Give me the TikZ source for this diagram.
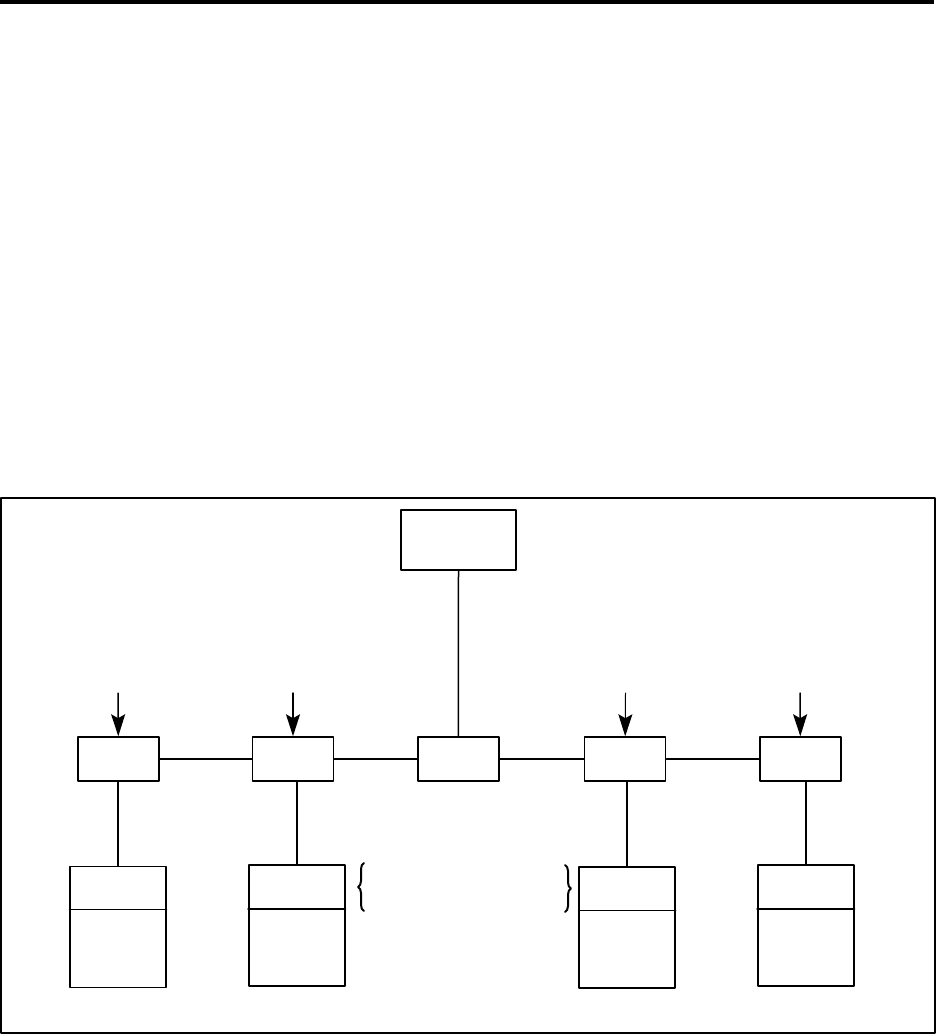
\documentclass[tikz,border=0pt]{standalone}
\usetikzlibrary{arrows.meta,decorations.pathreplacing}
\tikzset{
  every picture/.style={line join=round, line cap=round, >=Stealth},
  unit/.style={draw, line width=1.5pt, minimum width=81pt, minimum height=44pt, inner sep=0pt},
  store/.style={draw, line width=1.5pt, minimum width=96pt, minimum height=121pt, inner sep=0pt},
  feed/.style={-{Stealth[length=22pt,width=14pt,inset=4pt]}, line width=1.5pt},
  link/.style={line width=1.3pt},
}

\begin{document}
\begin{tikzpicture}[x=1pt,y=-1pt]
\useasboundingbox (0,0) rectangle (936,1035);
\draw[line width=4pt,line cap=butt](0,2)--(934,2);
\draw[line width=1.6pt](1,498) rectangle (935,1033);
% top box and middle row
\node[unit, minimum width=115pt, minimum height=60pt] (top) at (458.5,540) {};
\node[unit] (m1) at (118.3,759) {};
\node[unit] (m2) at (293,759) {};
\node[unit] (m3) at (458.3,759) {};
\node[unit] (m4) at (625.2,759) {};
\node[unit] (m5) at (800.3,759) {};
\draw[link](m1)--(m2);
\draw[link](m2)--(m3);
\draw[link](m3)--(m4);
\draw[link](m4)--(m5);
\draw[line width=1.5pt](top.south)--(m3.north);
% arrows into the units
\coordinate (a1) at (118,693);
\coordinate (a2) at (293,693);
\coordinate (a4) at (625.5,693);
\coordinate (a5) at (800,693);
\draw[feed](a1)--(m1.north);
\draw[feed](a2)--(m2.north);
\draw[feed, line width=1pt](a4)--(m4.north);
\draw[feed](a5)--(m5.north);
% stores below
\node[store] (b1) at (118,927.2) {};
\node[store] (b2) at (296.8,925.3) {};
\node[store] (b3) at (627,927.3) {};
\node[store] (b4) at (805.8,925.3) {};
\foreach \b/\m in {b1/m1,b2/m2,b3/m4,b4/m5}{
  \draw[line width=1.5pt](\b.north)--(\b.north |- \m.south);
}
\draw[line width=1pt]([yshift=-44pt]b1.north west)--([yshift=-44pt]b1.north east);
\draw[line width=1.5pt]([yshift=-45pt]b2.north west)--([yshift=-45pt]b2.north east);
\draw[line width=1pt]([yshift=-44pt]b3.north west)--([yshift=-44pt]b3.north east);
\draw[line width=1.5pt]([yshift=-45pt]b4.north west)--([yshift=-45pt]b4.north east);
% braces
\draw[line width=2pt, decorate, decoration={brace, amplitude=6pt}](364,911)--(364,863);
\draw[line width=2pt, decorate, decoration={brace, amplitude=6pt}](565,865)--(565,912);
\end{tikzpicture}
\end{document}
